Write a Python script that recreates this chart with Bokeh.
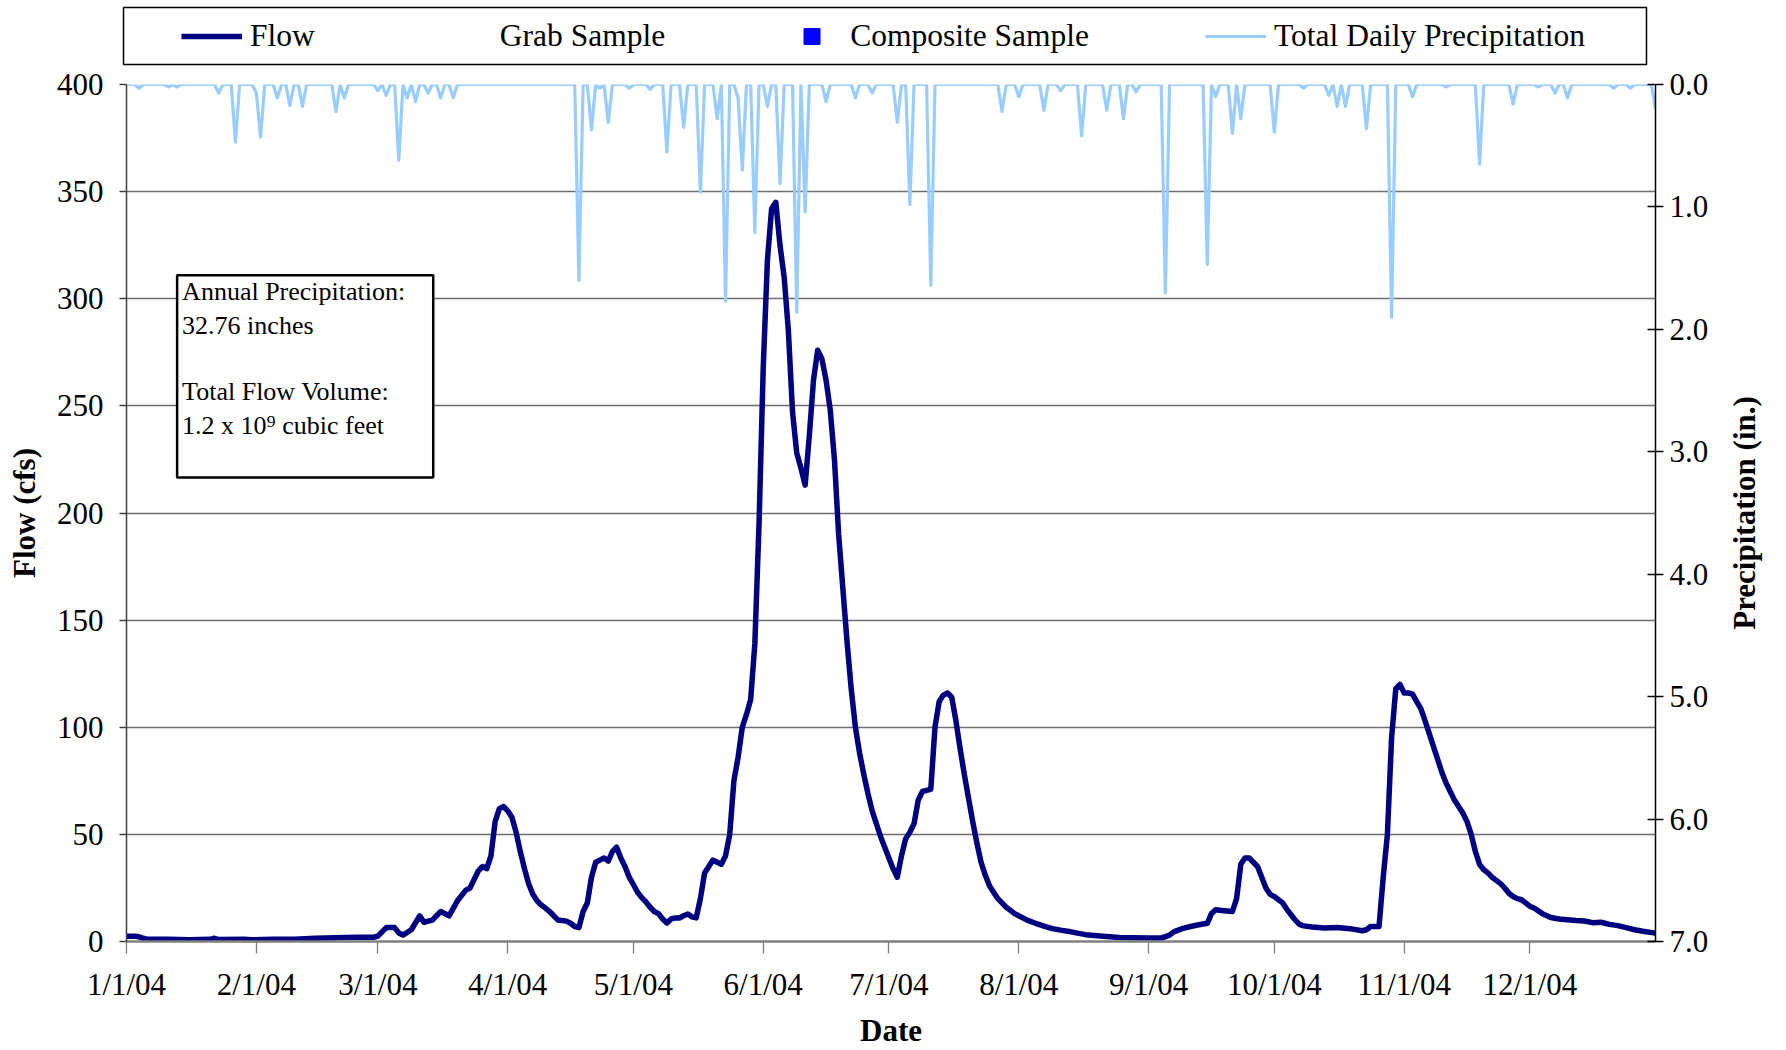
import math
import numpy as np
import pandas as pd
from bokeh.plotting import figure
from bokeh.models import (Range1d, LinearAxis, FixedTicker, Legend, LegendItem,
                          Label, PrintfTickFormatter)
from bokeh.layouts import column, row
from bokeh.embed import file_html
from bokeh.resources import INLINE

FONT = "Liberation Serif"

# ---------------- data ----------------
# daily flow, cfs; flow_day = days after 1/1/04
flow_day = [0, 1, 2, 3, 4, 5, 10, 15, 20, 21, 22, 28, 30,
            35, 40, 45, 50, 55, 59,
            60, 62, 64, 65, 66, 68, 70, 71, 73, 75, 77, 79, 81, 82, 84, 85, 86, 87, 88, 89, 90,
            91, 92, 93, 94, 95, 96, 97, 98, 99, 100, 101, 102, 103, 105, 106, 107, 108, 109, 110,
            111, 112, 113, 114, 115, 116, 117, 118, 119, 120,
            121, 122, 123, 124, 125, 126, 127, 128, 129, 130, 131, 132, 133, 134, 135, 136, 137,
            138, 139, 140, 141, 142, 143, 144, 145, 146, 147, 148, 149, 150, 151,
            152, 153, 154, 155, 156, 157, 158, 159, 160, 161, 162, 163, 164, 165, 166, 167, 168,
            169, 170, 171, 172, 173, 174, 175, 176, 177, 178, 179, 180, 181,
            182, 183, 184, 185, 186, 187, 188, 189, 190, 191, 192, 193, 194, 195, 196, 197, 198,
            199, 200, 201, 202, 203, 204, 205, 206, 207, 208, 209, 210, 211, 212,
            213, 215, 217, 219, 221, 223, 225, 227, 229, 231, 234, 237, 240,
            244, 247, 249, 250, 252, 254, 256, 258, 259, 260, 262, 264, 265, 266, 267, 268, 269,
            270, 271, 272, 273,
            274, 275, 276, 277, 278, 279, 280, 281, 283, 286, 289, 292, 295, 296, 297, 299, 300,
            301, 302, 303, 304,
            305, 306, 307, 308, 309, 310, 311, 312, 313, 314, 315, 316, 317, 318, 319, 320, 321,
            322, 323, 324, 325, 326, 327, 328, 329, 330, 331, 332, 333, 334,
            335, 336, 338, 340, 342, 344, 346, 348, 350, 352, 354, 356, 358, 360, 362, 365]
flow_cfs = [2.5, 2.5, 2.4, 2.2, 1.5, 1.0, 1.0, 0.8, 1.0, 1.5, 0.9, 1.0, 0.8,
            1.0, 1.0, 1.5, 1.8, 2.0, 2.0,
            2.5, 6.5, 6.5, 4.0, 3.0, 5.5, 12, 9, 10, 14, 12, 19, 24, 25, 33, 35, 34, 40, 56, 62, 63,
            61, 58, 51, 42, 34, 27, 22, 19, 17, 15.6, 14, 12, 10, 9.5, 8.5, 7, 6.5, 14, 18,
            30, 37, 38, 39, 37.5, 42, 44, 39, 35, 30,
            26.6, 23, 20.5, 18.5, 16, 14, 13, 10.5, 8.6, 10.5, 11, 11, 12, 12.8, 11.5, 11, 20,
            32, 35, 38, 37, 36, 40, 50, 75, 86, 100, 106, 113, 139, 195,
            268, 318, 342, 345, 325, 310, 285, 247, 228, 221, 213, 236, 262, 276, 272, 262, 248,
            225, 190, 165, 140, 118, 100, 88, 78, 69, 61, 55, 49, 44,
            39, 34, 30, 40, 48, 51, 55, 66, 70, 70.5, 71, 100, 112, 115, 116, 114, 103,
            90, 78, 67, 56, 46, 37, 31, 26, 23, 20, 18, 16, 14.5, 13,
            12, 10, 8.5, 7.2, 6, 5.3, 4.7, 3.9, 3.2, 2.8, 2.3, 1.9, 1.7,
            1.6, 1.6, 3, 4.5, 6, 7, 7.8, 8.5, 13, 14.8, 14.4, 14, 20, 36, 39, 39, 37,
            35, 30, 25, 22,
            21, 19.5, 18, 15, 12.5, 10, 8, 7.3, 6.8, 6.3, 6.5, 6, 5, 5.5, 7, 7, 30,
            50, 95, 118, 120,
            116, 116, 115.5, 112, 108.6, 103, 97, 91, 85, 79, 74, 70, 66, 63, 60, 56, 50,
            42, 36, 33.5, 32, 30, 28.5, 27, 25, 22.5, 21, 20, 19.5, 18,
            16.5, 15.6, 13, 11.2, 10.5, 10.2, 9.8, 9.6, 8.8, 9, 8, 7.4, 6.5, 5.5, 4.8, 3.9]

# total daily precipitation, inches, on the days it rained (all other days 0)
rain_day = [3, 10, 12, 22, 26, 31, 32, 36, 39, 42, 50, 52, 60, 62, 65, 67, 69, 72, 75, 78,
            108, 111, 113, 115, 120, 125, 129, 133, 137, 141, 143, 146, 147, 150, 153, 156,
            160, 162, 167, 174, 178, 184, 187, 192, 209, 213, 219, 223, 228, 234, 238, 241,
            248, 258, 260, 264, 266, 274, 281, 287, 289, 291, 296, 302, 307, 315, 323, 331,
            337, 341, 344, 355, 359, 365]
rain_in = [0.03, 0.02, 0.02, 0.07, 0.47, 0.07, 0.43, 0.11, 0.17, 0.18, 0.22, 0.11, 0.05, 0.09,
           0.62, 0.11, 0.14, 0.07, 0.11, 0.11,
           1.60, 0.37, 0.03, 0.31, 0.03, 0.04, 0.55, 0.35, 0.88, 0.28, 1.77, 0.11, 0.70, 1.21,
           0.18, 0.81, 1.86, 1.04, 0.14, 0.11, 0.07, 0.31, 0.98, 1.64, 0.22, 0.10, 0.21, 0.05,
           0.42, 0.21, 0.28, 0.06, 1.70, 1.47, 0.10, 0.40, 0.28, 0.39, 0.03, 0.09, 0.18, 0.18,
           0.36, 1.90, 0.10, 0.02, 0.65, 0.16, 0.02, 0.07, 0.11, 0.03, 0.03, 0.20]

month_ticks = ["2004-01-01", "2004-02-01", "2004-03-01", "2004-04-01", "2004-05-01",
               "2004-06-01", "2004-07-01", "2004-08-01", "2004-09-01", "2004-10-01",
               "2004-11-01", "2004-12-01"]
tick_labels = ["1/1/04", "2/1/04", "3/1/04", "4/1/04", "5/1/04", "6/1/04", "7/1/04",
               "8/1/04", "9/1/04", "10/1/04", "11/1/04", "12/1/04"]
flow_ticks = [0, 50, 100, 150, 200, 250, 300, 350, 400]
precip_ticks = [0, 1, 2, 3, 4, 5, 6, 7]

legend_labels = ["Flow", "Grab Sample", "Composite Sample", "Total Daily Precipitation"]
note_text = ("Annual Precipitation:\n32.76 inches\n\n"
             "Total Flow Volume:\n1.2 x 10\u2079 cubic feet")


def ms(ts):
    return float(pd.Timestamp(ts).value // 10**6)


start = pd.Timestamp("2004-01-01")
flow_dates = start + pd.to_timedelta(flow_day, unit="D")
all_days = pd.date_range("2004-01-01", "2004-12-31", freq="D")
precip = np.zeros(len(all_days))
precip[np.array(rain_day)] = rain_in

FLOW_COLOR = "#000080"
PREC_COLOR = "#99CCFF"
W = 1786          # whole page
WS = 72           # strip that carries the right-hand axis title
WM = W - WS       # main chart
H_LEG, H_MAIN = 68, 982
TOP, BOTTOM = 16, 109

# ---------------- legend strip ----------------
leg = figure(width=W, height=H_LEG, x_range=Range1d(0, 1), y_range=Range1d(0, 1),
             x_axis_type=None, y_axis_type=None, toolbar_location=None,
             output_backend="svg", min_border_left=123, min_border_right=140,
             min_border_top=7, min_border_bottom=4,
             outline_line_color="black", outline_line_width=1.5,
             background_fill_color="white", border_fill_color="white")
leg.grid.visible = False
# legend-only renderers: one point parked outside the strip's visible range
off = dict(x=[-5], y=[-5])
r_flow = leg.line(x=off["x"], y=off["y"], line_color=FLOW_COLOR, line_width=5.5)
r_grab = leg.scatter(x=off["x"], y=off["y"], marker="square", size=16,
                     fill_alpha=0, line_alpha=0)
r_comp = leg.scatter(x=off["x"], y=off["y"], marker="square", size=16,
                     fill_color="#0000FF", line_color="#0000FF")
r_prec = leg.line(x=off["x"], y=off["y"], line_color=PREC_COLOR, line_width=3.2)
legend = Legend(items=[LegendItem(label=lab, renderers=[r])
                       for lab, r in zip(legend_labels, [r_flow, r_grab, r_comp, r_prec])],
                orientation="horizontal", location=(58, 8), glyph_width=61, glyph_height=40,
                label_height=40, label_standoff=8, spacing=116, padding=0, margin=0,
                border_line_alpha=0, background_fill_alpha=0,
                label_text_font=FONT, label_text_font_size="31.5px", label_text_color="black")
leg.add_layout(legend, "center")

# ---------------- main chart ----------------
p = figure(width=WM, height=H_MAIN, x_axis_type="datetime",
           x_range=Range1d(start=ms("2004-01-01"), end=ms("2004-12-31")),
           y_range=Range1d(0, 400), toolbar_location=None, output_backend="svg",
           min_border_left=126, min_border_right=WM - 1655, min_border_top=TOP,
           min_border_bottom=BOTTOM, outline_line_color=None,
           background_fill_color="white", border_fill_color="white")
p.extra_y_ranges = {"precip": Range1d(start=7, end=0)}

p.line(x=all_days, y=precip, y_range_name="precip", line_color=PREC_COLOR, line_width=3.2,
       line_join="round")
p.line(x=flow_dates, y=flow_cfs, line_color=FLOW_COLOR, line_width=5.5, line_join="round")

p.xgrid.visible = False
p.ygrid.ticker = FixedTicker(ticks=flow_ticks)
p.ygrid.grid_line_color = "#6e6e6e"
p.ygrid.grid_line_width = 1.3

xa = p.xaxis[0]
xa.ticker = FixedTicker(ticks=[ms(d) for d in month_ticks])
xa.major_label_overrides = {ms(d): lab for d, lab in zip(month_ticks, tick_labels)}
xa.axis_label = "Date"
xa.major_tick_out = 12
xa.major_tick_in = 0
xa.major_label_standoff = 13
xa.axis_label_standoff = 8
xa.axis_line_color = "#7f7f7f"
xa.axis_line_width = 2.5
xa.major_tick_line_color = "#7f7f7f"
xa.major_tick_line_width = 1.3

ya = p.yaxis[0]
ya.ticker = FixedTicker(ticks=flow_ticks)
ya.axis_label = "Flow (cfs)"
ya.major_tick_out = 7
ya.major_tick_in = 0
ya.major_label_standoff = 16
ya.axis_label_standoff = 12
ya.axis_line_color = "#404040"
ya.axis_line_width = 1.5
ya.major_tick_line_color = "#404040"
ya.major_tick_line_width = 1.3

ra = LinearAxis(y_range_name="precip", ticker=FixedTicker(ticks=precip_ticks),
                formatter=PrintfTickFormatter(format="%.1f"))
ra.major_tick_out = 8
ra.major_tick_in = 8
ra.major_label_standoff = 6
ra.axis_line_color = "black"
ra.axis_line_width = 1.5
ra.major_tick_line_color = "black"
ra.major_tick_line_width = 1.3
p.add_layout(ra, "right")

for ax in (xa, ya, ra):
    ax.minor_tick_line_color = None
    ax.major_label_text_font = FONT
    ax.major_label_text_font_size = "31px"
    ax.major_label_text_color = "black"
    ax.axis_label_text_font = FONT
    ax.axis_label_text_font_size = "31px"
    ax.axis_label_text_font_style = "bold"
    ax.axis_label_text_color = "black"

note = Label(x=ms("2004-01-13 02:00"), y=311, x_units="data", y_units="data",
             text=note_text, text_font=FONT, text_font_size="26px", text_color="black",
             text_line_height=1.15, text_align="left", text_baseline="top",
             padding=dict(top=2, right=28, bottom=38, left=5),
             border_line_color="black", border_line_width=2.5,
             background_fill_color="white")
p.add_layout(note)

# ---------------- right-hand axis title (reads bottom-to-top) ----------------
strip = figure(width=WS, height=H_MAIN, x_range=Range1d(0, 1), y_range=Range1d(0, 1),
               x_axis_type=None, y_axis_type=None, toolbar_location=None,
               output_backend="svg", min_border_left=0, min_border_right=0,
               min_border_top=TOP, min_border_bottom=BOTTOM, outline_line_color=None,
               background_fill_color="white", border_fill_color="white")
strip.grid.visible = False
strip.add_layout(Label(x=0.42, y=0.5, text="Precipitation (in.)", angle=math.pi / 2,
                       text_align="center", text_baseline="middle", text_font=FONT,
                       text_font_size="31px", text_font_style="bold", text_color="black"))

layout = column(row(leg), row(p, strip))
open("out.html", "w").write(file_html(layout, INLINE, title="Flow and Precipitation 2004"))
